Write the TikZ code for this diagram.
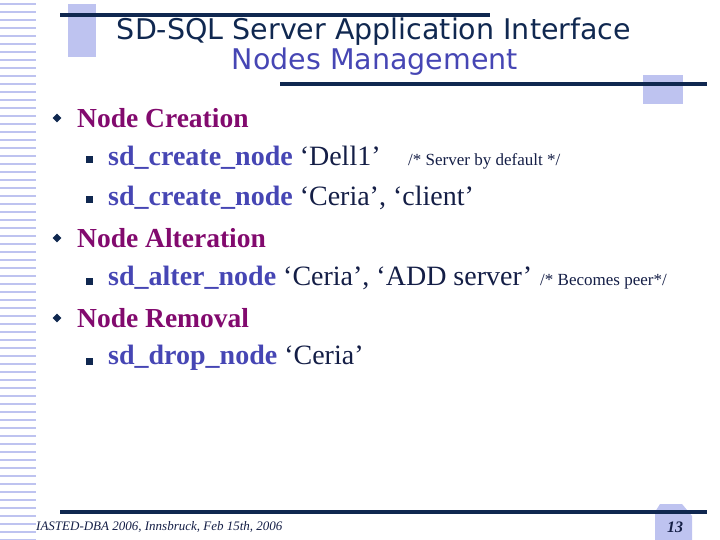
\documentclass[tikz,border=0pt]{standalone}
\usepackage{fontspec}
\setmainfont{Liberation Serif}
\newfontfamily\titlefont{DejaVu Sans}
\usetikzlibrary{shapes.geometric}
\definecolor{navy}{RGB}{16,40,80}
\definecolor{lav}{RGB}{190,195,240}
\definecolor{head}{RGB}{130,10,110}
\definecolor{cmd}{RGB}{70,70,180}
\definecolor{body}{RGB}{20,30,70}
\tikzset{
  bar/.style={navy, line width=4pt},
  tile/.style={fill=lav, draw=none},
  headtxt/.style={anchor=west, text=head, font=\fontsize{27.5}{30}\selectfont\bfseries, inner sep=0pt},
  subtxt/.style={anchor=west, text=body, font=\fontsize{28}{32}\selectfont, inner sep=0pt},
  note/.style={anchor=west, text=body, font=\fontsize{17}{20}\selectfont, inner sep=0pt},
  dia/.style={diamond, fill=navy, inner sep=0pt, minimum size=9pt},
  sq/.style={fill=navy, inner sep=0pt, minimum size=7pt}
}
\begin{document}
\begin{tikzpicture}[x=1pt, y=-1pt]
\useasboundingbox (0,0) rectangle (720,540);
% stripes on the left
\foreach \y in {4,12,...,540}
  \draw[lav, line width=2pt] (0,\y) -- (36,\y);
% title frame
\fill[tile] (68,4) rectangle (96,57);
\draw[bar] (60,15) -- (490,15);
\fill[tile] (643,75) rectangle (683,104);
\draw[bar] (280,84) -- (707,84);
\node[font=\titlefont\fontsize{28.5}{30}\selectfont, text=navy] (t1) at (374,32) {SD-SQL Server Application Interface};
\node[font=\titlefont\fontsize{28.5}{30}\selectfont, text=cmd] (t2) at (375,62) {Nodes Management};
% items
\node[dia] (b1) at (57,118) {};
\node[headtxt] (h1) at (77,118) {Node Creation};
\node[sq] (s1) at (89,160) {};
\node[subtxt] (c1) at (108,158) {\textcolor{cmd}{\bfseries sd\_create\_node} ‘Dell1’};
\node[note] (n1) at (408,161) {/* Server by default */};
\node[sq] (s2) at (89,200) {};
\node[subtxt] (c2) at (108,198) {\textcolor{cmd}{\bfseries sd\_create\_node} ‘Ceria’, ‘client’};
\node[dia] (b2) at (57,238) {};
\node[headtxt] (h2) at (77,238) {Node Alteration};
\node[sq] (s3) at (89,281) {};
\node[subtxt] (c3) at (108,278) {\textcolor{cmd}{\bfseries sd\_alter\_node} ‘Ceria’, ‘ADD server’};
\node[note] (n3) at (540,282) {/* Becomes peer*/};
\node[dia] (b3) at (57,318) {};
\node[headtxt] (h3) at (77,318) {Node Removal};
\node[sq] (s4) at (89,361) {};
\node[subtxt] (c4) at (108,358) {\textcolor{cmd}{\bfseries sd\_drop\_node} ‘Ceria’};
% footer
\fill[tile] (660,504) -- (682,504) -- (692,516) -- (692,540) -- (655,540) -- (655,512) -- cycle;
\draw[bar] (60,512) -- (707,512);
\node[anchor=west, text=body, font=\fontsize{13}{15}\selectfont\itshape, inner sep=0pt] (foot) at (36,527) {IASTED-DBA 2006, Innsbruck, Feb 15th, 2006};
\node[text=body, font=\fontsize{16}{18}\selectfont\bfseries\itshape, inner sep=0pt] (page) at (675,527) {13};
\end{tikzpicture}
\end{document}
